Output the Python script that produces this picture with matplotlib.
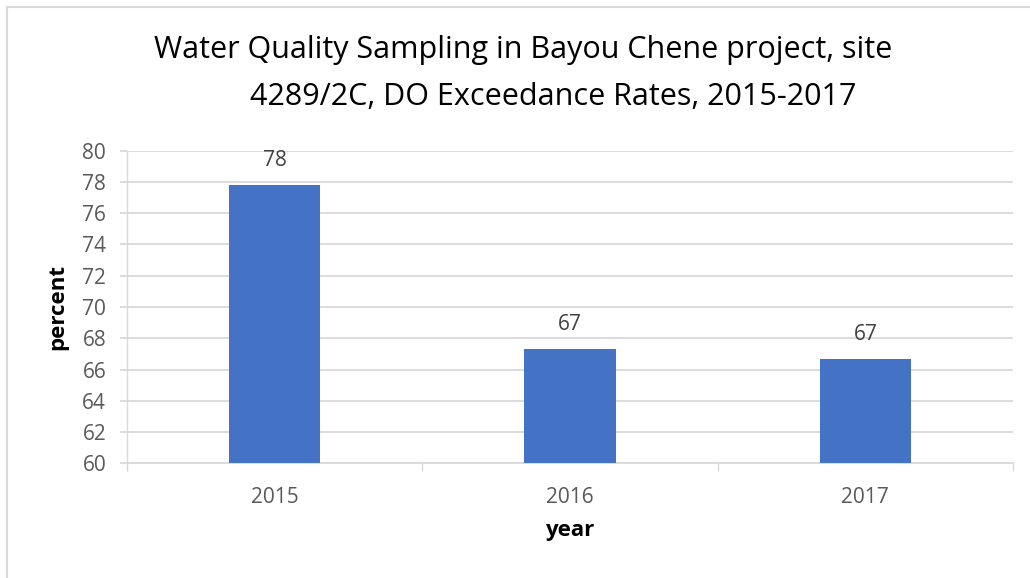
import matplotlib
matplotlib.use("Agg")
import matplotlib.pyplot as plt
from matplotlib.lines import Line2D
import numpy as np

# --- data ---
years = ["2015", "2016", "2017"]
exceedance = [77.8, 67.3, 66.65]
value_labels = ["78", "67", "67"]
y_ticks = [60, 62, 64, 66, 68, 70, 72, 74, 76, 78, 80]

title_lines = ["Water Quality Sampling in Bayou Chene project, site",
               "4289/2C, DO Exceedance Rates, 2015-2017"]

plt.rcParams['font.family'] = ['Open Sans', 'DejaVu Sans']

W, H = 1030, 578
fig = plt.figure(figsize=(W / 100, H / 100), dpi=100)
fig.patch.set_facecolor('white')

# plot area in pixels: x 127..1013, y 150.7..463.3
ax = fig.add_axes([127 / W, 1 - 463.3 / H, (1013 - 127) / W, (463.3 - 150.7) / H])

grid_col = '#d9d9d9'
bar_col = '#4472c4'
tick_col = '#595959'

x = np.arange(len(years))
ax.bar(x, exceedance, width=0.31, color=bar_col, zorder=3)

for xi, v, lab in zip(x, exceedance, value_labels):
    ax.annotate(lab, (xi, v), xytext=(0, 18), textcoords='offset points',
                ha='center', va='center', fontsize=15, color='#404040')

ax.set_xlim(-0.5, len(years) - 0.5)
ax.set_ylim(60, 80)
ax.set_yticks(y_ticks)
ax.yaxis.grid(True, color=grid_col, linewidth=1.3, zorder=0)

for s in ['top', 'right']:
    ax.spines[s].set_visible(False)
ax.spines['left'].set_color(grid_col)
ax.spines['bottom'].set_color(grid_col)
ax.spines['left'].set_linewidth(1.0)
ax.spines['bottom'].set_linewidth(1.3)

ax.tick_params(axis='y', length=5, width=1.3, color=grid_col, pad=10,
               labelsize=15, labelcolor=tick_col)
ax.set_xticks(x)
ax.set_xticklabels(years)
ax.tick_params(axis='x', which='major', length=0, pad=17,
               labelsize=15, labelcolor=tick_col)
ax.set_xticks(np.arange(len(years) + 1) - 0.5, minor=True)
ax.tick_params(axis='x', which='minor', length=6, width=1.0, color=grid_col)

ax.set_xlabel('year', fontsize=16, fontweight='bold', labelpad=9)
ax.set_ylabel('percent', fontsize=16, fontweight='bold', labelpad=10)

# two-line chart title
fig.text(523 / W, 1 - 50 / H, title_lines[0], ha='center', va='center',
         fontsize=22, color='black')
fig.text(553 / W, 1 - 97 / H, title_lines[1], ha='center', va='center',
         fontsize=22, color='black')

# chart-area border (top and left visible)
fig.add_artist(Line2D([6.5 / W, 6.5 / W], [0, 1 - 6.5 / H], transform=fig.transFigure,
                      color=grid_col, linewidth=1.5))
fig.add_artist(Line2D([6.5 / W, 1], [1 - 6.5 / H, 1 - 6.5 / H], transform=fig.transFigure,
                      color=grid_col, linewidth=1.5))

fig.savefig('out.png', dpi=100)
